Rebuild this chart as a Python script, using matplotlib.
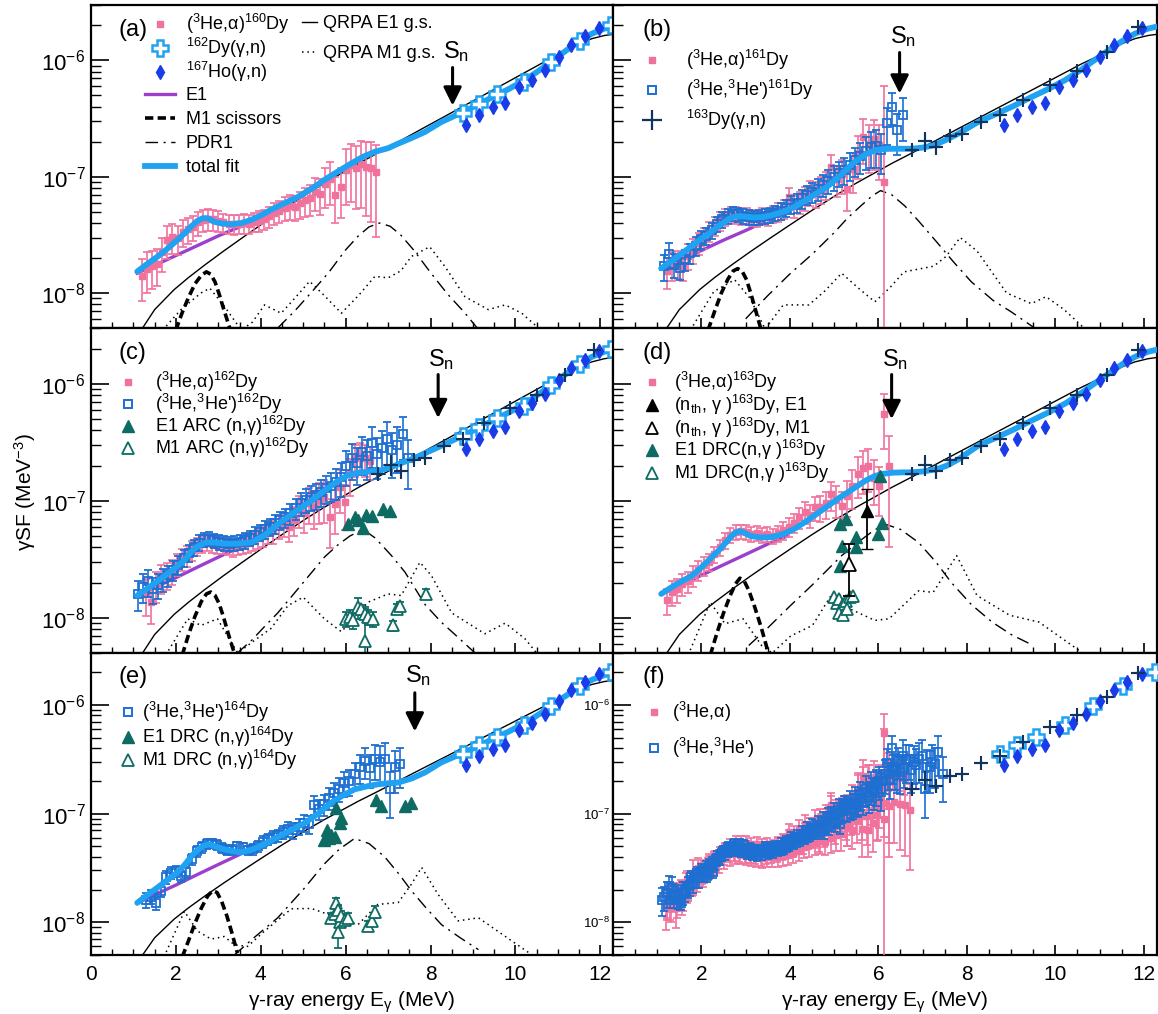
import matplotlib
matplotlib.use('Agg')
import matplotlib.pyplot as plt
import numpy as np
from matplotlib.lines import Line2D
from matplotlib.ticker import LogLocator, MultipleLocator, NullFormatter

plt.rcParams['font.family'] = ['Liberation Sans', 'DejaVu Sans']
plt.rcParams['mathtext.fontset'] = 'custom'
plt.rcParams['mathtext.rm'] = 'Liberation Sans'
plt.rcParams['mathtext.it'] = 'Liberation Sans'
plt.rcParams['mathtext.bf'] = 'Liberation Sans:bold'
plt.rcParams['mathtext.sf'] = 'Liberation Sans'

PINK = '#f0719b'
BLUE = '#1d6fd2'
CYAN = '#20a2f3'
DIAM = '#1a3ce8'
NAVY = '#11345e'
PURPLE = '#9b3fcf'
TEAL = '#0d6b63'

# ---- (gamma,n) data, the same in every panel ----
dy162_E = [8.76, 9.14, 9.56, 10.21, 10.85, 11.53, 12.25]
dy162_y = [3.56e-7, 4.26e-7, 5.1e-7, 6.5e-7, 9.7e-7, 1.48e-6, 2.0e-6]
ho167_E = [8.84, 9.14, 9.47, 9.76, 10.08, 10.39, 10.7, 11.02, 11.32, 11.63, 11.96]
ho167_y = [2.77e-7, 3.4e-7, 3.96e-7, 4.3e-7, 5.9e-7, 6.8e-7, 8.2e-7, 1.08e-6, 1.36e-6, 1.61e-6, 1.92e-6]
dy163_E = [6.76, 7.06, 7.30, 7.61, 7.88, 8.32, 8.76, 9.26, 9.88, 10.5, 11.18, 11.86]
dy163_y = [1.7e-7, 2.04e-7, 1.8e-7, 2.23e-7, 2.31e-7, 2.93e-7, 3.4e-7, 4.6e-7, 6.2e-7, 8.1e-7, 1.18e-6, 1.95e-6]
dy163_rel = [0.10, 0.20, 0.15, 0.08, 0.07, 0.07, 0.06, 0.06, 0.05, 0.05, 0.05, 0.05]
dy163_dE = [0.13, 0.13, 0.13, 0.13, 0.13, 0.13, 0.13, 0.13, 0.13, 0.13, 0.13, 0.13]

# ---- QRPA E1 g.s. (units 1e-9) ----
qe1_E = [1.15, 1.5, 1.96, 2.3, 2.67, 3.1, 3.54, 4.0, 4.5, 5.1, 5.5, 5.9, 6.3, 6.69, 7.3,
         7.87, 8.3, 8.65, 9.05, 9.44, 9.85, 10.23, 10.6, 11.0, 11.2, 11.5, 11.8, 12.1, 12.4]
qe1 = [4.6, 7.2, 10.7, 13.6, 17.3, 22.6, 29.4, 38.5, 51.4, 71.6, 88.1, 107, 130, 155, 205,
       267, 325, 382, 459, 549, 663, 790, 937, 1105, 1220, 1390, 1540, 1640, 1700]

# total fit above 8 MeV (units 1e-8), common part
fit_gdr_E = [8.25, 8.65, 9.05, 9.44, 9.85, 10.23, 10.6, 11.0, 11.2, 11.5, 11.8, 12.1, 12.4]
fit_gdr = [29.5, 34.5, 40.5, 48.0, 57.0, 68.0, 84.0, 108, 122, 146, 170, 188, 200]

# ================= panel (a) =================
fit_a_E = [1.09, 1.3, 1.57, 1.8, 2.04, 2.2, 2.35, 2.5, 2.63, 2.75, 2.9, 3.1, 3.3, 3.55, 3.77,
           4.0, 4.24, 4.55, 4.87, 5.2, 5.5, 5.8, 6.13, 6.4, 6.69, 7.0, 7.24, 7.55, 7.87]
fit_a = [1.53, 1.75, 2.06, 2.4, 2.87, 3.25, 3.7, 4.15, 4.4, 4.4, 4.1, 3.95, 3.9, 4.0, 4.25,
         4.65, 5.2, 5.9, 6.7, 7.9, 9.4, 11.0, 13.0, 14.8, 16.4, 17.6, 19.3, 21.5, 24.3]
e1_a_E = [1.09, 1.5, 2.0, 2.5, 3.0, 3.5, 3.8]
e1_a = [1.48, 1.73, 2.1, 2.55, 3.1, 3.7, 4.1]
sc_a_E = [2.0, 2.15, 2.3, 2.45, 2.6, 2.72, 2.82, 2.92, 3.02, 3.12, 3.3]
sc_a = [4.8, 6.8, 9.2, 12.0, 14.2, 15.2, 14.5, 12.5, 9.8, 7.4, 4.6]
pdr_a_E = [4.4, 4.8, 5.2, 5.6, 6.0, 6.3, 6.55, 6.8, 7.05, 7.3, 7.6, 8.0, 8.4, 8.8, 9.1]
pdr_a = [5.0, 7.0, 10.2, 15.0, 23.5, 31.0, 37.0, 40.0, 37.5, 31.5, 23.5, 15.0, 9.8, 6.8, 5.0]
m1_a_E = [1.69, 2.12, 2.59, 2.8, 3.14, 3.54, 3.8, 4.09, 4.48, 4.8, 5.15, 5.5, 5.9, 6.3, 6.69,
          7.0, 7.3, 7.55, 7.98, 8.34, 8.81, 9.36, 9.76, 10.15, 10.6]
m1_a = [4.8, 7.2, 10.0, 11.0, 7.7, 4.8, 5.6, 7.9, 6.7, 9.0, 12.6, 9.5, 6.7, 9.5, 13.9,
        13.5, 15.5, 20.6, 25.0, 16.9, 9.3, 7.2, 7.9, 6.7, 4.8]
pk_a_E = [1.20, 1.32, 1.44, 1.56, 1.68, 1.80, 1.92, 2.04, 2.16, 2.28,
          2.40, 2.52, 2.64, 2.76, 2.88, 3.00, 3.12, 3.24, 3.36, 3.48,
          3.60, 3.72, 3.84, 3.96, 4.08, 4.20, 4.32, 4.44, 4.56, 4.68,
          4.80, 4.92, 5.04, 5.16, 5.28, 5.40, 5.52, 5.64, 5.76, 5.88,
          6.00, 6.12, 6.24, 6.36, 6.48, 6.60, 6.72]
pk_a = [1.41, 1.62, 1.70, 1.78, 2.25, 2.85, 3.05, 2.95, 3.35, 3.55,
        3.70, 4.05, 4.25, 4.35, 4.30, 4.20, 4.05, 3.95, 3.90, 3.95,
        4.00, 3.95, 4.10, 4.20, 4.35, 4.55, 4.90, 5.10, 5.40, 5.60,
        5.50, 5.90, 6.30, 6.50, 7.40, 7.10, 8.60, 9.50, 7.00, 8.20,
        11.5, 12.6, 11.8, 12.8, 12.2, 11.9, 10.9]
pk_a_rel = [0.40, 0.38, 0.36, 0.35, 0.33, 0.31, 0.29, 0.28, 0.26, 0.25,
            0.24, 0.23, 0.22, 0.21, 0.20, 0.20, 0.19, 0.19, 0.19, 0.19,
            0.19, 0.19, 0.19, 0.20, 0.20, 0.20, 0.21, 0.22, 0.23, 0.24,
            0.25, 0.26, 0.28, 0.30, 0.32, 0.34, 0.37, 0.40, 0.43, 0.46,
            0.50, 0.52, 0.55, 0.58, 0.62, 0.66, 0.72]

# ================= panel (b) =================
fit_b_E = [1.09, 1.3, 1.6, 1.95, 2.2, 2.4, 2.53, 2.65, 2.78, 2.95, 3.19, 3.4, 3.6, 3.85, 4.1,
           4.45, 4.84, 5.15, 5.42, 5.7, 5.92, 6.1, 6.33, 6.55, 6.75, 7.0, 7.25, 7.5, 7.8]
fit_b = [1.63, 1.85, 2.25, 2.85, 3.3, 3.8, 4.1, 4.4, 4.58, 4.55, 4.46, 4.5, 4.68, 5.0, 5.5,
         6.6, 8.2, 10.3, 13.0, 15.5, 16.9, 17.3, 17.4, 17.4, 17.4, 17.8, 18.6, 20.5, 23.4]
e1_b_E = [1.09, 1.5, 2.0, 2.5, 3.0, 3.4]
e1_b = [1.63, 1.92, 2.32, 2.85, 3.45, 4.05]
sc_b_E = [2.15, 2.3, 2.45, 2.6, 2.72, 2.82, 2.92, 3.02, 3.12, 3.22, 3.35]
sc_b = [4.8, 7.0, 10.0, 13.2, 15.5, 16.2, 15.4, 13.0, 9.8, 7.2, 4.8]
pdr_b_E = [3.0, 3.5, 4.0, 4.5, 5.0, 5.3, 5.6, 5.85, 6.05, 6.3, 6.6, 6.9, 7.3, 7.7, 8.1, 8.6, 9.0, 9.5]
pdr_b = [6.0, 9.5, 14.6, 21.5, 33.0, 44.0, 56.0, 68.0, 76.0, 70.0, 56.0, 42.0, 28.0, 18.5, 12.5, 8.6, 6.9, 5.1]
m1_b_E = [1.75, 2.28, 2.75, 3.1, 3.44, 3.85, 4.43, 4.8, 5.17, 5.55, 5.92, 6.25, 6.58, 7.25,
          7.53, 7.85, 8.23, 8.9, 9.46, 9.79, 10.2, 10.7]
m1_b = [4.8, 10.3, 13.0, 9.0, 4.9, 7.9, 7.9, 10.5, 14.8, 11.0, 8.4, 11.0, 15.2, 17.0,
        20.6, 30.0, 23.0, 10.0, 8.1, 9.3, 7.2, 4.8]
pk_b_E = [1.22, 1.34, 1.46, 1.58, 1.70, 1.82, 1.94, 2.06, 2.18, 2.30,
          2.42, 2.54, 2.66, 2.78, 2.90, 3.02, 3.14, 3.26, 3.38, 3.50,
          3.62, 3.74, 3.86, 3.98, 4.10, 4.22, 4.34, 4.46, 4.58, 4.70,
          4.82, 4.94, 5.06, 5.18, 5.30, 5.42, 5.54, 5.66, 5.78, 5.90,
          6.02, 6.12]
pk_b = [1.55, 1.75, 1.80, 1.70, 2.10, 2.35, 2.70, 3.00, 3.40, 3.80,
        4.20, 4.55, 4.75, 4.70, 4.60, 4.65, 4.50, 4.40, 4.60, 4.50,
        4.80, 5.00, 5.30, 6.70, 5.60, 6.10, 6.60, 7.40, 7.20, 7.90,
        8.60, 12.1, 9.60, 10.5, 7.80, 11.6, 16.0, 22.0, 19.3, 21.0,
        18.7, 9.00]
pk_b_rel = [0.30, 0.28, 0.27, 0.26, 0.25, 0.24, 0.22, 0.21, 0.20, 0.19,
            0.18, 0.17, 0.16, 0.16, 0.16, 0.16, 0.16, 0.16, 0.16, 0.17,
            0.17, 0.18, 0.19, 0.20, 0.21, 0.22, 0.23, 0.24, 0.25, 0.26,
            0.27, 0.28, 0.30, 0.32, 0.35, 0.37, 0.40, 0.42, 0.44, 0.46,
            0.50, 5.70]
bl_b_E = [1.15, 1.27, 1.39, 1.51, 1.63, 1.75, 1.87, 1.99, 2.11, 2.23,
          2.35, 2.47, 2.59, 2.71, 2.83, 2.95, 3.07, 3.19, 3.31, 3.43,
          3.55, 3.67, 3.79, 3.91, 4.03, 4.15, 4.27, 4.39, 4.51, 4.63,
          4.75, 4.87, 4.99, 5.11, 5.23, 5.35, 5.47, 5.59, 5.71, 5.83,
          5.95, 6.07, 6.19, 6.31, 6.43, 6.55]
bl_b = [1.70, 2.15, 1.75, 1.65, 1.95, 2.20, 2.55, 2.90, 3.10, 3.45,
        3.90, 4.30, 4.60, 4.80, 4.75, 4.60, 4.50, 4.45, 4.50, 4.60,
        4.70, 4.90, 5.10, 5.40, 5.80, 6.00, 6.50, 7.00, 7.40, 7.90,
        8.50, 9.20, 10.0, 10.8, 11.5, 12.6, 13.8, 15.0, 16.8, 18.0,
        18.5, 17.0, 29.0, 40.0, 25.0, 33.7]
bl_b_rel = [0.25, 0.24, 0.23, 0.22, 0.21, 0.20, 0.19, 0.18, 0.17, 0.16,
            0.15, 0.15, 0.14, 0.14, 0.14, 0.14, 0.14, 0.14, 0.14, 0.14,
            0.15, 0.15, 0.16, 0.16, 0.17, 0.18, 0.18, 0.19, 0.20, 0.21,
            0.22, 0.23, 0.24, 0.25, 0.26, 0.27, 0.28, 0.30, 0.32, 0.34,
            0.36, 0.38, 0.35, 0.30, 0.38, 0.40]

# ================= panel (c) =================
fit_c_E = [1.09, 1.3, 1.6, 1.96, 2.2, 2.35, 2.5, 2.71, 2.9, 3.14, 3.45, 3.77, 4.1, 4.4, 4.8,
           5.19, 5.5, 5.82, 6.05, 6.29, 6.5, 6.76, 7.0, 7.31, 7.6, 7.87]
fit_c = [1.55, 1.75, 2.1, 2.62, 3.1, 3.63, 4.05, 4.4, 4.4, 4.3, 4.3, 4.4, 5.1, 6.3, 8.0,
         10.0, 12.2, 14.8, 16.5, 17.4, 17.7, 18.0, 19.0, 21.0, 23.0, 25.5]
e1_c_E = [1.09, 1.5, 2.0, 2.5, 3.0, 3.5, 3.7]
e1_c = [1.55, 1.82, 2.2, 2.7, 3.3, 4.0, 4.35]
sc_c_E = [2.15, 2.3, 2.45, 2.6, 2.72, 2.82, 2.92, 3.02, 3.12, 3.25, 3.4]
sc_c = [4.8, 7.2, 10.3, 13.8, 16.0, 16.6, 15.6, 13.2, 10.2, 7.0, 4.7]
pdr_c_E = [3.45, 3.8, 4.1, 4.4, 4.7, 5.0, 5.3, 5.5, 5.8, 6.1, 6.41, 6.7, 7.08, 7.4, 7.87, 8.25, 8.65, 9.05]
pdr_c = [5.0, 6.5, 8.5, 11.0, 14.8, 20.0, 27.0, 33.0, 41.5, 50.0, 57.0, 48.0, 34.0, 24.5, 13.0, 9.2, 6.8, 5.0]
m1_c_E = [1.76, 2.28, 2.59, 2.98, 3.3, 3.46, 3.85, 4.24, 4.64, 5.0, 5.5, 5.9, 6.53, 7.0, 7.31,
          7.75, 8.02, 8.5, 9.28, 9.76, 10.23, 10.54]
m1_c = [4.8, 9.8, 8.6, 9.8, 6.2, 5.0, 6.4, 8.1, 12.7, 15.0, 9.8, 7.6, 13.6, 16.0, 15.5,
        29.8, 23.0, 11.0, 7.3, 9.0, 6.6, 4.8]
pk_c_E = [1.30, 1.42, 1.54, 1.66, 1.78, 1.90, 2.02, 2.14, 2.26, 2.38,
          2.50, 2.62, 2.74, 2.86, 2.98, 3.10, 3.22, 3.34, 3.46, 3.58,
          3.70, 3.82, 3.94, 4.06, 4.18, 4.30, 4.42, 4.54, 4.66, 4.78,
          4.90, 5.02, 5.14, 5.26, 5.38, 5.50, 5.62, 5.74, 5.86, 5.98,
          6.10, 6.22, 6.34, 6.46, 6.58]
pk_c = [1.60, 1.36, 1.90, 2.20, 2.35, 2.50, 2.90, 3.20, 3.40, 3.80,
        4.10, 4.30, 4.40, 4.30, 4.20, 4.15, 4.10, 3.95, 4.10, 4.20,
        4.35, 4.55, 4.80, 5.00, 5.40, 5.50, 6.10, 6.40, 6.00, 6.90,
        8.40, 7.80, 9.60, 8.90, 10.2, 10.8, 7.20, 9.40, 13.0, 9.70,
        17.0, 23.0, 24.0, 23.0, 22.0]
pk_c_rel = [0.35, 0.35, 0.30, 0.28, 0.26, 0.24, 0.22, 0.21, 0.20, 0.19,
            0.18, 0.17, 0.16, 0.16, 0.16, 0.16, 0.16, 0.16, 0.16, 0.17,
            0.17, 0.18, 0.19, 0.20, 0.21, 0.22, 0.23, 0.24, 0.26, 0.28,
            0.30, 0.32, 0.34, 0.36, 0.38, 0.40, 0.45, 0.45, 0.40, 0.42,
            0.35, 0.30, 0.30, 0.30, 0.32]
bl_c_E = [1.10, 1.22, 1.34, 1.46, 1.58, 1.70, 1.82, 1.94, 2.06, 2.18,
          2.30, 2.42, 2.54, 2.66, 2.78, 2.90, 3.02, 3.14, 3.26, 3.38,
          3.50, 3.62, 3.74, 3.86, 3.98, 4.10, 4.22, 4.34, 4.46, 4.58,
          4.70, 4.82, 4.94, 5.06, 5.18, 5.30, 5.42, 5.54, 5.66, 5.78,
          5.90, 6.02, 6.14, 6.26, 6.38, 6.50, 6.62, 6.74, 6.86, 6.98,
          7.10, 7.22, 7.34, 7.46]
bl_c = [1.60, 1.85, 2.05, 1.75, 1.90, 2.15, 2.30, 2.55, 2.85, 3.25,
        3.60, 4.00, 4.40, 4.70, 4.75, 4.60, 4.45, 4.35, 4.30, 4.35,
        4.45, 4.60, 4.80, 5.10, 5.40, 5.70, 6.00, 6.40, 6.80, 7.20,
        7.80, 8.60, 9.50, 10.2, 10.8, 11.2, 12.0, 12.8, 13.5, 14.5,
        16.0, 20.0, 23.0, 21.0, 26.0, 24.0, 31.0, 25.0, 28.0, 34.0,
        27.0, 30.0, 37.0, 23.0]
bl_c_rel = [0.28, 0.27, 0.26, 0.25, 0.24, 0.22, 0.20, 0.19, 0.18, 0.17,
            0.16, 0.15, 0.15, 0.14, 0.14, 0.14, 0.14, 0.14, 0.14, 0.14,
            0.14, 0.15, 0.15, 0.16, 0.16, 0.17, 0.17, 0.18, 0.18, 0.19,
            0.20, 0.21, 0.22, 0.23, 0.24, 0.25, 0.26, 0.27, 0.28, 0.30,
            0.32, 0.33, 0.34, 0.35, 0.36, 0.37, 0.38, 0.38, 0.40, 0.40,
            0.42, 0.42, 0.40, 0.45]
arc_e1_E = [6.06, 6.21, 6.29, 6.41, 6.49, 6.61, 6.88, 7.04]
arc_e1 = [6.3, 7.2, 6.8, 5.9, 7.5, 7.4, 8.5, 8.2]
arc_m1_E = [6.02, 6.10, 6.18, 6.29, 6.37, 6.45, 6.53, 6.65, 6.45, 7.12, 7.20, 7.28, 7.90]
arc_m1 = [0.98, 1.02, 0.95, 1.23, 1.18, 1.08, 1.02, 0.98, 0.63, 0.86, 1.20, 1.25, 1.60]
arc_m1_rel = [0.15, 0.15, 0.15, 0.20, 0.10, 0.10, 0.15, 0.15, 0.95, 0.10, 0.10, 0.10, 0.10]

# ================= panel (d) =================
fit_d_E = [1.09, 1.4, 1.79, 2.0, 2.2, 2.4, 2.62, 2.75, 2.86, 2.98, 3.11, 3.35, 3.6, 3.85, 4.1,
           4.4, 4.76, 5.1, 5.42, 5.7, 5.92, 6.1, 6.33, 6.55, 6.74, 7.0, 7.32, 7.55, 7.8]
fit_d = [1.6, 1.9, 2.3, 2.7, 3.2, 3.8, 4.7, 5.3, 5.5, 5.3, 5.0, 4.85, 4.9, 5.2, 5.75,
         6.8, 8.5, 10.5, 12.6, 14.8, 16.3, 17.0, 17.4, 17.5, 17.5, 17.8, 18.6, 20.0, 22.5]
e1_d_E = [1.09, 1.5, 2.0, 2.5, 3.0, 3.5, 3.94]
e1_d = [1.6, 1.88, 2.31, 2.84, 3.48, 4.27, 5.0]
sc_d_E = [2.2, 2.35, 2.5, 2.65, 2.77, 2.87, 2.97, 3.07, 3.2, 3.35, 3.5]
sc_d = [4.8, 7.4, 11.0, 15.5, 19.5, 21.8, 20.5, 17.2, 12.5, 8.3, 5.2]
pdr_d_E = [3.07, 3.5, 4.02, 4.5, 5.17, 5.6, 5.9, 6.16, 6.5, 6.91, 7.3, 7.65, 8.1, 8.57, 9.0, 9.46]
pdr_d = [5.8, 8.2, 12.8, 19.0, 34.0, 46.0, 56.0, 63.0, 57.0, 44.0, 30.0, 20.0, 13.0, 9.2, 7.2, 5.9]
m1_d_E = [1.7, 2.2, 2.53, 2.94, 3.36, 3.6, 4.02, 4.51, 4.93, 5.34, 5.92, 6.24, 6.91, 7.24,
          7.77, 8.23, 8.97, 9.63, 10.62]
m1_d = [4.8, 13.6, 8.9, 9.8, 5.8, 5.0, 7.0, 8.6, 15.5, 12.0, 9.5, 9.8, 17.0, 16.5,
        34.0, 15.5, 10.5, 9.2, 5.0]
pk_d_E = [1.21, 1.33, 1.45, 1.57, 1.69, 1.81, 1.93, 2.05, 2.17, 2.29,
          2.41, 2.53, 2.65, 2.77, 2.89, 3.01, 3.13, 3.25, 3.37, 3.49,
          3.61, 3.73, 3.85, 3.97, 4.09, 4.21, 4.33, 4.45, 4.57, 4.69,
          4.81, 4.93, 5.05, 5.17, 5.29, 5.41, 5.53, 5.65, 5.77, 5.89,
          6.01, 6.13, 6.25]
pk_d = [1.41, 1.65, 1.75, 1.95, 2.05, 2.30, 2.55, 2.80, 3.00, 3.50,
        4.00, 4.60, 5.10, 5.40, 5.50, 5.40, 5.20, 5.30, 5.10, 5.20,
        5.00, 5.30, 5.60, 6.00, 6.50, 7.20, 8.00, 7.50, 8.80, 8.80,
        9.50, 11.4, 10.2, 9.00, 11.0, 13.4, 17.0, 19.2, 19.9, 15.8,
        13.4, 55.0, 20.0]
pk_d_rel = [0.25, 0.24, 0.23, 0.22, 0.21, 0.20, 0.19, 0.18, 0.17, 0.16,
            0.15, 0.15, 0.14, 0.14, 0.14, 0.14, 0.14, 0.14, 0.14, 0.15,
            0.15, 0.16, 0.17, 0.18, 0.19, 0.20, 0.21, 0.22, 0.23, 0.25,
            0.26, 0.28, 0.30, 0.32, 0.34, 0.36, 0.38, 0.40, 0.40, 0.42,
            0.45, 0.50, 0.80]
nth_e1_E = [5.75]
nth_e1 = [8.2e-8]
nth_e1_err = [4.3e-8]
nth_m1_E = [5.34]
nth_m1 = [2.9e-8]
nth_m1_err = [1.35e-8]
drc_e1_d_E = [5.13, 5.17, 5.26, 5.13, 5.50, 5.50, 6.00, 6.08, 6.04]
drc_e1_d = [6.3, 4.1, 7.0, 2.75, 4.9, 4.0, 5.2, 6.5, 16.3]
drc_m1_d_E = [5.00, 5.06, 5.12, 5.20, 5.27, 5.35, 5.42, 5.10, 5.20, 5.30]
drc_m1_d = [1.50, 1.35, 1.45, 1.30, 1.40, 1.50, 1.55, 1.10, 1.05, 1.20]

# ================= panel (e) =================
fit_e_E = [1.09, 1.3, 1.57, 1.8, 2.04, 2.2, 2.35, 2.5, 2.67, 2.8, 2.95, 3.14, 3.35, 3.54, 3.75,
           3.93, 4.15, 4.4, 4.7, 5.03, 5.35, 5.66, 5.95, 6.21, 6.5, 6.76, 7.0, 7.24, 7.55, 7.87]
fit_e = [1.51, 1.75, 2.09, 2.45, 2.88, 3.35, 3.98, 4.6, 5.1, 5.2, 4.95, 4.68, 4.5, 4.4, 4.6,
         4.9, 5.4, 6.1, 7.0, 8.15, 10.0, 12.6, 14.8, 16.7, 17.8, 18.6, 19.0, 19.3, 21.0, 23.9]
e1_e_E = [1.09, 1.5, 2.0, 2.5, 3.0, 3.5, 3.69]
e1_e = [1.5, 1.79, 2.2, 2.74, 3.4, 4.2, 4.6]
sc_e_E = [2.15, 2.3, 2.45, 2.6, 2.75, 2.87, 2.97, 3.08, 3.2, 3.32, 3.45]
sc_e = [4.8, 6.8, 9.8, 13.5, 17.5, 19.5, 18.8, 15.5, 11.5, 8.0, 5.2]
pdr_e_E = [3.38, 3.8, 4.4, 5.0, 5.5, 5.85, 6.21, 6.55, 6.92, 7.25, 7.55, 7.9, 8.26, 8.7, 9.13]
pdr_e = [5.0, 7.0, 11.0, 20.0, 34.5, 47.0, 59.0, 53.0, 40.0, 28.0, 19.5, 13.5, 9.5, 7.2, 5.6]
m1_e_E = [1.72, 2.2, 2.51, 2.83, 3.14, 3.38, 3.69, 4.09, 4.72, 5.19, 5.82, 6.29, 6.76, 7.24,
          7.55, 7.79, 8.18, 8.65, 9.13, 9.83, 10.46]
m1_e = [4.8, 12.6, 8.3, 7.0, 7.4, 6.2, 6.0, 8.3, 13.3, 13.4, 11.0, 9.5, 14.6, 15.2,
        22.4, 32.0, 18.0, 10.3, 11.0, 7.1, 4.8]
bl_e_E = [1.29, 1.41, 1.53, 1.65, 1.77, 1.89, 2.01, 2.13, 2.25, 2.37,
          2.49, 2.61, 2.73, 2.85, 2.97, 3.09, 3.21, 3.33, 3.45, 3.57,
          3.69, 3.81, 3.93, 4.05, 4.17, 4.29, 4.41, 4.53, 4.65, 4.77,
          4.89, 5.01, 5.13, 5.25, 5.37, 5.49, 5.61, 5.73, 5.85, 5.97,
          6.09, 6.21, 6.33, 6.45, 6.57, 6.69, 6.81, 6.93, 7.05, 7.17,
          7.29]
bl_e = [1.60, 1.72, 1.50, 1.95, 2.60, 2.85, 2.95, 2.65, 2.90, 3.80,
        4.50, 4.90, 5.30, 5.35, 5.15, 4.85, 4.65, 4.65, 5.00, 4.90,
        4.60, 4.70, 5.00, 5.50, 5.80, 6.10, 6.30, 6.80, 7.20, 7.00,
        7.60, 8.20, 8.00, 12.0, 11.0, 12.2, 14.0, 15.5, 17.0, 19.2,
        20.0, 23.0, 26.6, 30.6, 26.0, 31.7, 30.0, 31.7, 16.7, 26.6,
        28.6]
bl_e_rel = [0.15, 0.14, 0.14, 0.13, 0.13, 0.12, 0.12, 0.12, 0.12, 0.11,
            0.11, 0.11, 0.10, 0.10, 0.10, 0.10, 0.10, 0.10, 0.10, 0.10,
            0.10, 0.11, 0.11, 0.12, 0.12, 0.13, 0.13, 0.14, 0.15, 0.16,
            0.17, 0.18, 0.19, 0.20, 0.21, 0.22, 0.23, 0.24, 0.25, 0.26,
            0.27, 0.28, 0.30, 0.32, 0.34, 0.36, 0.38, 0.40, 0.45, 0.42,
            0.40]
drc_e1_e_E = [5.50, 5.55, 5.60, 5.66, 5.74, 5.78, 5.86, 5.90, 6.72, 6.84, 7.40, 7.55]
drc_e1_e = [5.7, 7.0, 6.0, 6.3, 6.1, 11.3, 8.2, 9.1, 13.4, 11.7, 11.7, 12.5]
drc_m1_e_E = [5.66, 5.74, 5.78, 5.82, 5.86, 5.90, 5.98, 6.06, 5.82, 6.53, 6.61, 6.69]
drc_m1_e = [1.10, 1.20, 1.50, 1.30, 1.00, 1.15, 1.05, 1.10, 0.82, 0.93, 1.02, 1.25]
drc_m1_e_rel = [0.10, 0.15, 0.12, 0.10, 0.10, 0.10, 0.10, 0.10, 0.30, 0.10, 0.10, 0.12]

# neutron separation energies
Sn_E = {'a': 8.52, 'b': 6.48, 'c': 8.18, 'd': 6.30, 'e': 7.63}

W, H = 1158, 1014
fig = plt.figure(figsize=(W / 100, H / 100), dpi=100)
cols = [(91, 613), (613, 1157)]
rows = [(5, 328), (328, 653), (653, 955)]


def make_ax(r, c):
    l, rr = cols[c]
    t, b = rows[r]
    ax = fig.add_axes([l / W, 1 - b / H, (rr - l) / W, (b - t) / H])
    ax.set_yscale('log')
    ax.set_xlim(0, 12.3)
    ax.set_ylim(5e-9, 3e-6)
    ax.xaxis.set_major_locator(MultipleLocator(2))
    ax.xaxis.set_minor_locator(MultipleLocator(0.5))
    ax.yaxis.set_major_locator(LogLocator(10, numticks=10))
    ax.yaxis.set_minor_locator(LogLocator(10, subs=np.arange(2, 10), numticks=30))
    ax.yaxis.set_minor_formatter(NullFormatter())
    ax.tick_params(which='both', direction='in', top=False, right=False)
    ax.tick_params(axis='y', which='major', length=13, width=1.2, labelsize=16, pad=4)
    ax.tick_params(axis='y', which='minor', length=7, width=1.0)
    ax.tick_params(axis='x', which='major', length=7, width=1.2, labelsize=15, pad=7)
    ax.tick_params(axis='x', which='minor', length=4, width=1.0)
    for s in ax.spines.values():
        s.set_linewidth(1.6)
    if r < 2:
        ax.tick_params(axis='x', labelbottom=False)
    if c == 1:
        ax.tick_params(axis='y', labelleft=False)
    return ax


def theory(ax, e1E, e1, scE, sc, pdrE, pdr, m1E, m1):
    ax.plot(qe1_E, np.array(qe1) * 1e-9, color='k', lw=1.0, zorder=2)
    ax.plot(m1E, np.array(m1) * 1e-9, color='k', lw=1.1, ls=(0, (1, 2.5)), zorder=2)
    ax.plot(pdrE, np.array(pdr) * 1e-9, color='k', lw=1.0, ls=(0, (9, 4, 1.5, 4)), zorder=2)
    ax.plot(scE, np.array(sc) * 1e-9, color='k', lw=2.6, ls=(0, (2.3, 1.2)), zorder=2)
    ax.plot(e1E, np.array(e1) * 1e-8, color=PURPLE, lw=2.4, zorder=2)


def total(ax, fE, f):
    ax.plot(fE + fit_gdr_E, np.array(f + fit_gdr) * 1e-8, color=CYAN, lw=4.2,
            solid_capstyle='round', zorder=4)


def pink(ax, E, y, rel):
    y = np.array(y) * 1e-8
    ax.errorbar(E, y, yerr=y * np.array(rel), fmt='s', ms=4.5, color=PINK, ecolor=PINK,
                elinewidth=1.2, capsize=3, capthick=1.2, zorder=3)


def blue(ax, E, y, rel):
    y = np.array(y) * 1e-8
    ax.errorbar(E, y, yerr=y * np.array(rel), fmt='s', ms=6, mfc='none', mec=BLUE, mew=1.3,
                ecolor=BLUE, elinewidth=1.2, capsize=3, capthick=1.2, zorder=3.5)


def gdr(ax, cross=False, diam=False, plus=False):
    if plus:
        ax.errorbar(dy163_E, dy163_y, xerr=dy163_dE, yerr=np.array(dy163_y) * np.array(dy163_rel),
                    fmt='+', ms=10, mew=1.5, color=NAVY, elinewidth=1.5, capsize=0, zorder=5)
    if cross:
        ax.plot(dy162_E, dy162_y, ls='none', marker='P', ms=12, mfc='white', mec=CYAN, mew=1.8, zorder=5)
    if diam:
        ax.plot(ho167_E, ho167_y, ls='none', marker='d', ms=7, color=DIAM, zorder=5)


def sn_arrow(ax, E, top, tip, ytxt):
    ax.annotate('', xy=(E, tip), xytext=(E, top),
                arrowprops=dict(arrowstyle='-|>,head_length=1.0,head_width=0.5', lw=2.2,
                                color='k', shrinkA=0, shrinkB=0, mutation_scale=11), zorder=6)
    ax.text(E + 0.08, ytxt, r'S$_{\rm n}$', ha='center', va='bottom', fontsize=17, zorder=6)


def rows_legend(ax, entries, x, ys, hl, pad, fs=13):
    # one single-row legend per entry, so every row sits exactly where wanted
    for (h, lab), y in zip(entries, ys):
        leg = ax.legend([h], [lab], loc='center left', bbox_to_anchor=(x, y),
                        bbox_transform=ax.transAxes, frameon=False, fontsize=fs,
                        handlelength=hl, handletextpad=pad, borderpad=0, borderaxespad=0)
        ax.add_artist(leg)
    ax.legend_ = None


def panel_label(ax, txt, x, y):
    ax.text(x, y, txt, transform=ax.transAxes, fontsize=17, ha='left', va='center')


h_pink = Line2D([], [], ls='none', marker='s', ms=5, mfc=PINK, mec=PINK)
h_blue = Line2D([], [], ls='none', marker='s', ms=6, mfc='none', mec=BLUE, mew=1.4)
h_cross = Line2D([], [], ls='none', marker='P', ms=12, mfc='white', mec=CYAN, mew=1.8)
h_diam = Line2D([], [], ls='none', marker='d', ms=7, color=DIAM)
h_plus = Line2D([], [], ls='none', marker='+', ms=15, mew=1.6, color=NAVY)
h_e1 = Line2D([], [], color=PURPLE, lw=2.4)
h_sc = Line2D([], [], color='k', lw=2.6, ls=(0, (2.3, 1.2)))
h_pdr = Line2D([], [], color='k', lw=1.0, ls=(0, (9, 4, 1.5, 4)))
h_fit = Line2D([], [], color=CYAN, lw=4.2)
h_qe1 = Line2D([], [], color='k', lw=1.0)
h_qm1 = Line2D([], [], color='k', lw=1.1, ls=(0, (1, 2.5)))
h_tk = Line2D([], [], ls='none', marker='^', ms=8, color='k')
h_tko = Line2D([], [], ls='none', marker='^', ms=8, mfc='white', mec='k', mew=1.3)
h_tt = Line2D([], [], ls='none', marker='^', ms=8, color=TEAL)
h_tto = Line2D([], [], ls='none', marker='^', ms=8, mfc='white', mec=TEAL, mew=1.3)


def fy(py, r):
    t, b = rows[r]
    return 1 - (py - t) / (b - t)


# ---------------- (a) ----------------
ax = make_ax(0, 0)
theory(ax, e1_a_E, e1_a, sc_a_E, sc_a, pdr_a_E, pdr_a, m1_a_E, m1_a)
pink(ax, pk_a_E, pk_a, pk_a_rel)
total(ax, fit_a_E, fit_a)
gdr(ax, cross=True, diam=True)
sn_arrow(ax, Sn_E['a'], 8.7e-7, 4.1e-7, 9.4e-7)
panel_label(ax, '(a)', 0.052, fy(30, 0))
rows_legend(ax, [(h_pink, r'($^3$He,$\alpha$)$^{160}$Dy'),
                 (h_cross, r'$^{162}$Dy($\gamma$,n)'),
                 (h_diam, r'$^{167}$Ho($\gamma$,n)'),
                 (h_e1, 'E1'), (h_sc, 'M1 scissors'), (h_pdr, 'PDR1'),
                 (h_fit, 'total fit')],
            0.103, [fy(p, 0) for p in (24, 48, 72, 96, 120, 144, 168)], 1.66, 0.6)
rows_legend(ax, [(h_qe1, 'QRPA E1 g.s.'), (h_qm1, 'QRPA M1 g.s.')],
            0.404, [fy(p, 0) for p in (24, 54)], 0.85, 0.3)

# ---------------- (b) ----------------
ax = make_ax(0, 1)
theory(ax, e1_b_E, e1_b, sc_b_E, sc_b, pdr_b_E, pdr_b, m1_b_E, m1_b)
pink(ax, pk_b_E, pk_b, pk_b_rel)
blue(ax, bl_b_E, bl_b, bl_b_rel)
total(ax, fit_b_E, fit_b)
gdr(ax, diam=True, plus=True)
sn_arrow(ax, Sn_E['b'], 1.17e-6, 5.2e-7, 1.25e-6)
panel_label(ax, '(b)', 0.055, fy(30, 0))
rows_legend(ax, [(h_pink, r'($^3$He,$\alpha$)$^{161}$Dy'),
                 (h_blue, r"($^3$He,$^3$He')$^{161}$Dy"),
                 (h_plus, r'$^{163}$Dy($\gamma$,n)')],
            0.044, [fy(p, 0) for p in (60, 90, 120)], 1.66, 1.05)

# ---------------- (c) ----------------
ax = make_ax(1, 0)
theory(ax, e1_c_E, e1_c, sc_c_E, sc_c, pdr_c_E, pdr_c, m1_c_E, m1_c)
pink(ax, pk_c_E, pk_c, pk_c_rel)
blue(ax, bl_c_E, bl_c, bl_c_rel)
total(ax, fit_c_E, fit_c)
gdr(ax, cross=True, diam=True, plus=True)
ax.plot(arc_e1_E, np.array(arc_e1) * 1e-8, ls='none', marker='^', ms=9, color=TEAL, zorder=5)
y = np.array(arc_m1) * 1e-8
ax.errorbar(arc_m1_E, y, yerr=y * np.array(arc_m1_rel), fmt='^', ms=9, mfc='white', mec=TEAL,
            mew=1.3, ecolor=TEAL, elinewidth=1.2, capsize=3, zorder=5)
sn_arrow(ax, Sn_E['c'], 1.2e-6, 5.1e-7, 1.26e-6)
panel_label(ax, '(c)', 0.052, fy(353, 1))
rows_legend(ax, [(h_pink, r'($^3$He,$\alpha$)$^{162}$Dy'),
                 (h_blue, r"($^3$He,$^3$He')$^{162}$Dy"),
                 (h_tt, r'E1 ARC (n,$\gamma$)$^{162}$Dy'),
                 (h_tto, r'M1 ARC (n,$\gamma$)$^{162}$Dy')],
            0.042, [fy(p, 1) for p in (382, 404, 426, 448)], 1.66, 0.66)

# ---------------- (d) ----------------
ax = make_ax(1, 1)
theory(ax, e1_d_E, e1_d, sc_d_E, sc_d, pdr_d_E, pdr_d, m1_d_E, m1_d)
pink(ax, pk_d_E, pk_d, pk_d_rel)
total(ax, fit_d_E, fit_d)
gdr(ax, diam=True, plus=True)
ax.plot(drc_e1_d_E, np.array(drc_e1_d) * 1e-8, ls='none', marker='^', ms=9, color=TEAL, zorder=5)
ax.plot(drc_m1_d_E, np.array(drc_m1_d) * 1e-8, ls='none', marker='^', ms=9, mfc='white',
        mec=TEAL, mew=1.3, zorder=5)
ax.errorbar(nth_e1_E, nth_e1, yerr=nth_e1_err, fmt='^', ms=9, color='k', elinewidth=1.3,
            capsize=4, zorder=6)
ax.errorbar(nth_m1_E, nth_m1, yerr=nth_m1_err, fmt='^', ms=10, mfc='white', mec='k', mew=1.3,
            ecolor='k', elinewidth=1.3, capsize=4, zorder=6)
sn_arrow(ax, Sn_E['d'], 1.2e-6, 5.0e-7, 1.26e-6)
panel_label(ax, '(d)', 0.055, fy(353, 1))
rows_legend(ax, [(h_pink, r'($^3$He,$\alpha$)$^{163}$Dy'),
                 (h_tk, r'(n$_{\rm th}$, $\gamma$ )$^{163}$Dy, E1'),
                 (h_tko, r'(n$_{\rm th}$, $\gamma$ )$^{163}$Dy, M1'),
                 (h_tt, r'E1 DRC(n,$\gamma$ )$^{163}$Dy'),
                 (h_tto, r'M1 DRC(n,$\gamma$ )$^{163}$Dy')],
            0.044, [fy(p, 1) for p in (382, 405, 428, 450, 473)], 1.66, 0.39)

# ---------------- (e) ----------------
ax = make_ax(2, 0)
theory(ax, e1_e_E, e1_e, sc_e_E, sc_e, pdr_e_E, pdr_e, m1_e_E, m1_e)
blue(ax, bl_e_E, bl_e, bl_e_rel)
total(ax, fit_e_E, fit_e)
gdr(ax, cross=True, diam=True)
ax.plot(drc_e1_e_E, np.array(drc_e1_e) * 1e-8, ls='none', marker='^', ms=9, color=TEAL, zorder=5)
y = np.array(drc_m1_e) * 1e-8
ax.errorbar(drc_m1_e_E, y, yerr=y * np.array(drc_m1_e_rel), fmt='^', ms=9, mfc='white', mec=TEAL,
            mew=1.3, ecolor=TEAL, elinewidth=1.2, capsize=3, zorder=5)
sn_arrow(ax, Sn_E['e'], 1.29e-6, 5.7e-7, 1.44e-6)
panel_label(ax, '(e)', 0.052, fy(677, 2))
rows_legend(ax, [(h_blue, r"($^3$He,$^3$He')$^{164}$Dy"),
                 (h_tt, r'E1 DRC (n,$\gamma$)$^{164}$Dy'),
                 (h_tto, r'M1 DRC (n,$\gamma$)$^{164}$Dy')],
            0.054, [fy(p, 2) for p in (712, 737, 760)], 1.0, 0.28)
ax.set_xlabel(r'$\gamma$-ray energy E$_{\gamma}$ (MeV)', fontsize=15, labelpad=4)

# ---------------- (f) ----------------
ax = make_ax(2, 1)
ax.tick_params(axis='y', which='major', labelleft=True, labelsize=9.5, pad=2)
ax.set_xticks([0, 2, 4, 6, 8, 10, 12], ['', '2', '4', '6', '8', '10', '12'])
for E, v, rel in ((pk_a_E, pk_a, pk_a_rel), (pk_b_E, pk_b, pk_b_rel),
                  (pk_c_E, pk_c, pk_c_rel), (pk_d_E, pk_d, pk_d_rel)):
    pink(ax, E, v, rel)
for E, v, rel in ((bl_b_E, bl_b, bl_b_rel), (bl_c_E, bl_c, bl_c_rel), (bl_e_E, bl_e, bl_e_rel)):
    blue(ax, E, v, rel)
gdr(ax, cross=True, diam=True, plus=True)
panel_label(ax, '(f)', 0.055, fy(677, 2))
rows_legend(ax, [(h_pink, r'($^3$He,$\alpha$)'), (h_blue, r"($^3$He,$^3$He')")],
            0.059, [fy(p, 2) for p in (712, 748)], 1.0, 0.5)
ax.set_xlabel(r'$\gamma$-ray energy E$_{\gamma}$ (MeV)', fontsize=15, labelpad=4)

fig.text(25 / W, 1 - 492 / H, r'$\gamma$SF (MeV$^{-3}$)', rotation=90, ha='center', va='center',
         fontsize=15)

fig.savefig('out.png', dpi=100)
